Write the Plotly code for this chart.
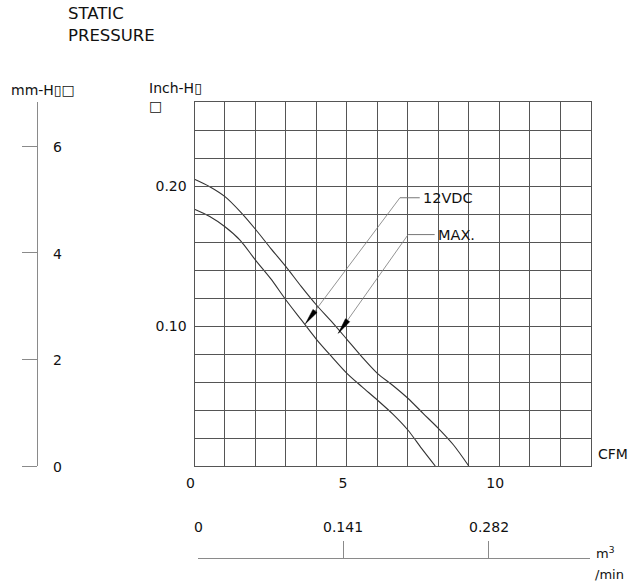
import math
import plotly.graph_objects as go

# ---------------- data ----------------
cfm_max = [0, 0.5, 1, 1.5, 2, 2.5, 3, 3.5, 4, 4.5, 5, 5.5, 6, 6.5, 7, 7.5, 8, 8.5, 9]
inh_max = [0.2048, 0.1995, 0.1924, 0.1817, 0.1691, 0.1555, 0.1424, 0.1283, 0.1150, 0.1031,
           0.0905, 0.0778, 0.0662, 0.0577, 0.0484, 0.0376, 0.0269, 0.0150, 0.0]
cfm_12v = [0, 0.5, 1, 1.5, 2, 2.5, 3, 3.5, 4, 4.5, 5, 5.5, 6, 6.5, 7, 7.45, 7.9]
inh_12v = [0.1834, 0.1782, 0.1709, 0.1612, 0.1471, 0.1338, 0.1186, 0.1045, 0.0905, 0.0781,
           0.0662, 0.0565, 0.0471, 0.0372, 0.0257, 0.0126, 0.0]

x_grid = list(range(0, 14))
x_ticks = [0, 5, 10]
x_labels = ["0", "5", "10"]
y_grid = [round(i * 0.02, 2) for i in range(14)]
y_ticks = [0.10, 0.20]
y_labels = ["0.10", "0.20"]
mm_ticks = [0, 2, 4, 6]
m3_ticks = [0, 0.141, 0.282]
m3_labels = ["0", "0.141", "0.282"]

label_names = ["12VDC", "MAX."]
label_tip_x = [3.64, 4.72]
label_tip_y = [0.1016, 0.0948]
label_elbow_x = [6.74, 7.01]
label_elbow_y = [0.1916, 0.1653]
label_end_x = [7.39, 7.88]

# ---------------- geometry helpers (reference pixels -> paper) ----------------
OFF = 0                              # page body margin is removed below
W, H = 634, 586
ML, MR, MT, MB = 2, 35, 94, 12
PW = W - ML - MR
PH = H - MT - MB

X0, X1, Y0, Y1 = 194.5, 590.7, 466.0, 102.0   # plot frame in reference pixels
XR, YR = 13.0, 0.26


def px(p):
    return (p - OFF - ML) / PW


def py(p):
    return (H + OFF - MB - p) / PH


def d2p(x, y):
    return X0 + x / XR * (X1 - X0), Y0 - y / YR * (Y0 - Y1)


def p2d(u, v):
    return (u - X0) / (X1 - X0) * XR, (Y0 - v) / (Y0 - Y1) * YR


FONT = "DejaVu Sans"
TXT = "#111111"
GRID = "#555555"
AX2 = "#8a8a8a"

fig = go.Figure()

fig.add_trace(go.Scatter(x=cfm_max, y=inh_max, mode="lines",
                         line=dict(color="#333333", width=1.1, shape="spline", smoothing=0.8),
                         showlegend=False, hoverinfo="skip"))
fig.add_trace(go.Scatter(x=cfm_12v, y=inh_12v, mode="lines",
                         line=dict(color="#333333", width=1.1, shape="spline", smoothing=0.8),
                         showlegend=False, hoverinfo="skip"))

# invisible anchors so secondary axes are drawn
fig.add_trace(go.Scatter(x=[0], y=[0], xaxis="x", yaxis="y2", mode="markers", marker=dict(opacity=0),
                         showlegend=False, hoverinfo="skip"))
fig.add_trace(go.Scatter(x=[0], y=[0], xaxis="x2", yaxis="y", mode="markers", marker=dict(opacity=0),
                         showlegend=False, hoverinfo="skip"))

annotations = []
shapes = []

# curve labels with leader lines and narrow filled arrowheads
for name, tx, ty, ex, ey, endx in zip(label_names, label_tip_x, label_tip_y, label_elbow_x,
                                      label_elbow_y, label_end_x):
    shapes.append(dict(type="line", xref="x", yref="y", x0=ex, y0=ey, x1=tx, y1=ty,
                       line=dict(color="#777777", width=0.8)))
    shapes.append(dict(type="line", xref="x", yref="y", x0=ex, x1=endx, y0=ey, y1=ey,
                       line=dict(color="#777777", width=1)))
    tu, tv = d2p(tx, ty)
    eu, ev = d2p(ex, ey)
    L = math.hypot(eu - tu, ev - tv)
    du, dv = (eu - tu) / L, (ev - tv) / L
    hl, hw = 16.0, 2.6
    bu, bv = tu + du * hl, tv + dv * hl
    pts = [(tu, tv), (bu - dv * hw, bv + du * hw), (bu + dv * hw, bv - du * hw)]
    dpts = [p2d(a, b) for a, b in pts]
    path = "M {:.5f},{:.5f} L {:.5f},{:.5f} L {:.5f},{:.5f} Z".format(*[c for p in dpts for c in p])
    shapes.append(dict(type="path", xref="x", yref="y", path=path, fillcolor="#000000",
                       line=dict(color="#000000", width=0.5)))
    annotations.append(dict(x=endx, y=ey, xref="x", yref="y", text=name, showarrow=False,
                            xanchor="left", yanchor="middle", xshift=1,
                            font=dict(family=FONT, size=14.5, color=TXT)))

# mm axis labels
for v in mm_ticks:
    annotations.append(dict(x=px(57), y=v, xref="paper", yref="y2", text=str(v), showarrow=False,
                            xanchor="center", yanchor="middle", yshift=-1,
                            font=dict(family=FONT, size=14, color=TXT)))

# m3/min axis labels
for v, t in zip(m3_ticks, m3_labels):
    annotations.append(dict(x=v, y=py(527), xref="x2", yref="paper", text=t, showarrow=False,
                            xanchor="center", yanchor="middle",
                            font=dict(family=FONT, size=14, color=TXT)))

annotations += [
    dict(x=px(66), y=py(14), xref="paper", yref="paper", text="STATIC", showarrow=False,
         xanchor="left", yanchor="middle", font=dict(family=FONT, size=16.5, color=TXT)),
    dict(x=px(66), y=py(35), xref="paper", yref="paper", text="PRESSURE", showarrow=False,
         xanchor="left", yanchor="middle", font=dict(family=FONT, size=16.5, color=TXT)),
    dict(x=px(9), y=py(90), xref="paper", yref="paper", text="mm-H\u25af\u25a1", showarrow=False,
         xanchor="left", yanchor="middle", font=dict(family=FONT, size=14, color=TXT)),
    dict(x=px(147), y=py(88), xref="paper", yref="paper", text="Inch-H\u25af", showarrow=False,
         xanchor="left", yanchor="middle", font=dict(family=FONT, size=14, color=TXT)),
    dict(x=px(147), y=py(106), xref="paper", yref="paper", text="\u25a1", showarrow=False,
         xanchor="left", yanchor="middle", font=dict(family=FONT, size=14, color=TXT)),
    dict(x=px(596), y=py(454), xref="paper", yref="paper", text="CFM", showarrow=False,
         xanchor="left", yanchor="middle", font=dict(family=FONT, size=14, color=TXT)),
    dict(x=px(594), y=py(553), xref="paper", yref="paper", text="m<sup>3</sup>", showarrow=False,
         xanchor="left", yanchor="middle", font=dict(family=FONT, size=13, color=TXT)),
    dict(x=px(593), y=py(574), xref="paper", yref="paper", text="/min", showarrow=False,
         xanchor="left", yanchor="middle", font=dict(family=FONT, size=13, color=TXT)),
]

fig.update_layout(
    width=W, height=H, template="none",
    margin=dict(l=ML, r=MR, t=MT, b=MB, pad=0),
    paper_bgcolor="white", plot_bgcolor="rgba(0,0,0,0)",
    showlegend=False,
    font=dict(family=FONT, size=14, color=TXT),
    xaxis=dict(domain=[px(X0), px(X1)], range=[0, XR], tickvals=x_ticks, ticktext=x_labels,
               showgrid=True, gridcolor=GRID, gridwidth=1, zeroline=False,
               minor=dict(tickvals=x_grid, showgrid=True, gridcolor=GRID, gridwidth=1, ticks=""),
               showline=True, mirror=True, linecolor=GRID, linewidth=1, ticks="",
               tickfont=dict(family=FONT, size=14, color=TXT), ticklabelshift=-4, ticklabelstandoff=4,
               automargin=False, fixedrange=True, anchor="y"),
    yaxis=dict(domain=[py(Y0), py(Y1)], range=[0, YR], tickvals=y_ticks, ticktext=y_labels,
               showgrid=True, gridcolor=GRID, gridwidth=1, zeroline=False,
               minor=dict(tickvals=y_grid, showgrid=True, gridcolor=GRID, gridwidth=1, ticks=""),
               showline=True, mirror=True, linecolor=GRID, linewidth=1, ticks="",
               tickfont=dict(family=FONT, size=14, color=TXT), ticklabelstandoff=4,
               automargin=False, fixedrange=True, anchor="x"),
    yaxis2=dict(overlaying="y", anchor="free", position=px(37), side="left", range=[0, 6.83],
                showgrid=False, zeroline=False, showline=True, linecolor=AX2, linewidth=1,
                tickvals=mm_ticks, ticks="outside", ticklen=15, tickcolor=AX2, tickwidth=1,
                showticklabels=False, automargin=False, fixedrange=True),
    xaxis2=dict(anchor="free", position=py(558), side="bottom", domain=[px(198), px(590)],
                range=[0, 0.3804], showgrid=False, zeroline=False, showline=True, linecolor=AX2,
                linewidth=1, tickvals=m3_ticks, ticks="inside", ticklen=17, tickcolor=AX2,
                tickwidth=1, showticklabels=False, automargin=False, fixedrange=True),
    annotations=annotations,
    shapes=shapes,
)

fig.write_html("out.html", config={"displayModeBar": False},
               post_script="document.body.style.margin='0px';document.body.style.overflow='hidden';")
